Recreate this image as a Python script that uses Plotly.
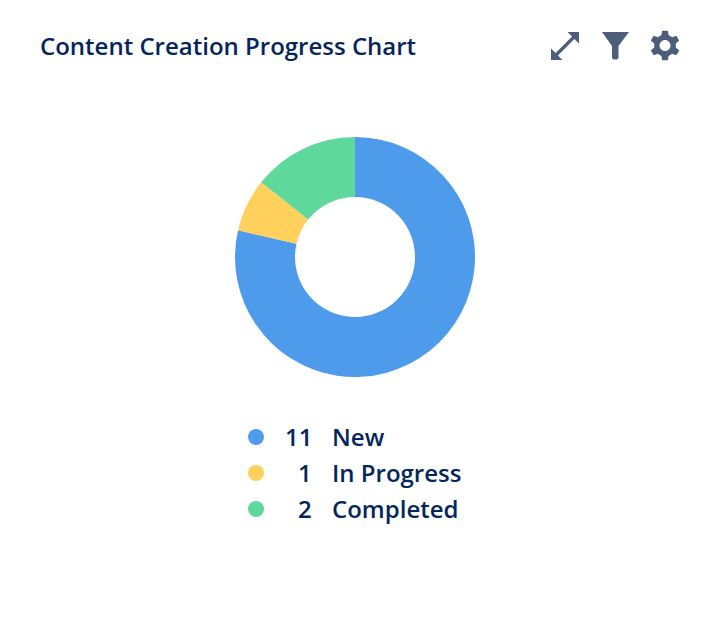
import math
import plotly.graph_objects as go

title = "Content Creation Progress Chart"
categories = ["New", "In Progress", "Completed"]
values = [11, 1, 2]
colors = ["#4F9BEB", "#FFD15C", "#5ED89B"]
ink = "#05265C"
icon = "#4C5E79"
W, H = 714, 624
font = "Open Sans"


def px(x):
    return x / W


def py(y):
    return 1 - y / H


def path(points, close=True):
    d = "M" + " L".join(f"{px(x):.5f},{py(y):.5f}" for x, y in points)
    return d + (" Z" if close else "")


def gear(cx, cy, ro, ri, hole):
    pts = []
    for i in range(6):
        a = math.radians(60 * i - 90)
        for off, r in [(-19, ri), (-11, ro), (11, ro), (19, ri)]:
            t = a + math.radians(off)
            pts.append((cx + r * math.cos(t), cy + r * math.sin(t)))
    hole_pts = [(cx + hole * math.cos(math.radians(a)), cy + hole * math.sin(math.radians(a)))
                for a in range(0, 360, 20)]
    return path(pts) + " " + path(hole_pts)


fig = go.Figure(go.Pie(
    labels=categories, values=values, hole=0.5, sort=False, direction="clockwise",
    rotation=0, marker=dict(colors=colors, line=dict(width=0)), textinfo="none",
    hoverinfo="label+value", showlegend=False,
    domain=dict(x=[px(235), px(475)], y=[py(377), py(137)]),
))

text_font = dict(family=font, size=24, color=ink, weight=600)
annotations = [dict(text=title, x=px(38), y=py(46), xref="paper", yref="paper", xanchor="left",
                    yanchor="middle", showarrow=False, font=text_font)]
shapes = []
rows = [437, 473, 509]
for yy, cat, val, col in zip(rows, categories, values, colors):
    shapes.append(dict(type="circle", xref="paper", yref="paper", x0=px(248), x1=px(264),
                       y0=py(yy - 8), y1=py(yy + 8), fillcolor=col, line_width=0))
    annotations.append(dict(text=str(val), x=px(314), y=py(yy - 1), xref="paper", yref="paper", xanchor="right",
                            yanchor="middle", showarrow=False, font=text_font))
    annotations.append(dict(text=cat, x=px(330), y=py(yy - 1), xref="paper", yref="paper", xanchor="left",
                            yanchor="middle", showarrow=False, font=text_font))

# toolbar icons
arrow = [(579, 32), (579, 43.5), (574.4, 38.9), (557.9, 55.4), (562.5, 60), (551, 60), (551, 48.5),
         (555.6, 53.1), (572.1, 36.6), (567.5, 32)]
funnel = [(602, 32), (629, 32), (618.5, 46), (618.5, 58), (617, 59.5), (613.5, 59.5), (612, 58), (612, 46)]
shapes.append(dict(type="path", xref="paper", yref="paper", path=path(arrow), fillcolor=icon, line_width=0))
shapes.append(dict(type="path", xref="paper", yref="paper", path=path(funnel), fillcolor=icon, line_width=0))
shapes.append(dict(type="path", xref="paper", yref="paper", path=gear(665, 45.5, 15, 11, 5.5),
                   fillcolor=icon, line_width=0, fillrule="evenodd"))

fig.update_layout(width=W, height=H, margin=dict(l=0, r=0, t=0, b=0), paper_bgcolor="white",
                  plot_bgcolor="white", annotations=annotations, shapes=shapes)
fig.write_html("out.html", config=dict(displayModeBar=False),
               post_script="document.body.style.margin='0';")
